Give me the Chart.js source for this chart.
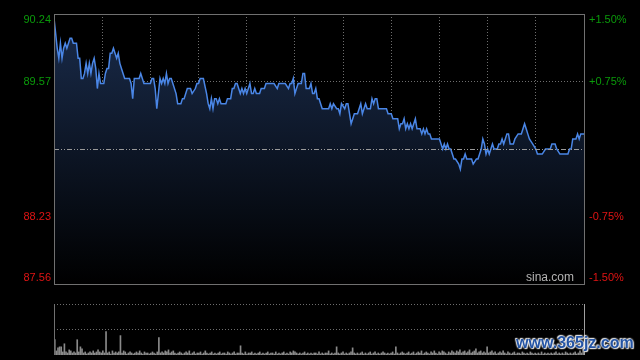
<!DOCTYPE html>
<html><head><meta charset="utf-8">
<script src="https://cdn.jsdelivr.net/npm/chart.js@4.4.1/dist/chart.umd.min.js"></script>
<style>
html,body{margin:0;padding:0;background:#000;width:640px;height:360px;overflow:hidden}
#wrap{position:relative;width:640px;height:360px}
canvas{position:absolute;left:0;top:0}
#wm{position:absolute;left:516px;top:334px;font:bold 16px "Liberation Sans",Arial,sans-serif;color:#2454a4;white-space:nowrap;
text-shadow:0 0 2px #fff,0 0 2px #fff,1px 1px 1px #ddd,-1px -1px 1px #ddd}
</style></head>
<body><div id="wrap">
<canvas id="main" width="640" height="360"></canvas>
<canvas id="vol" width="640" height="360"></canvas>
<div id="wm">www.365jz.com</div>
</div>
<script>
// ---- data ----
const prevClose = 88.90;
const yTickValues = [87.56, 88.23, 88.90, 89.57, 90.24];
const leftLabels  = ['87.56', '88.23', '', '89.57', '90.24'];
const rightLabels = ['-1.50%', '-0.75%', '', '+0.75%', '+1.50%'];
const sessionMinutes = 330;
const minutes = [0,2,3,4,5,6,7,8,10,11,12,14,15,16,17,18,19,20,21,22,23,24,25,26,27,28,29,31,32,33,34,35,36,37,38,39,40,41,42,43,44,47,48,49,50,53,54,55,56,60,61,62,63,64,65,66,67,68,69,70,71,72,73,74,76,77,79,80,81,83,84,85,86,88,89,90,91,93,95,96,97,98,99,100,101,102,103,104,107,108,110,111,112,113,114,116,117,118,119,120,121,122,123,124,125,126,128,129,131,132,137,139,140,144,146,147,148,149,150,151,152,154,155,156,157,159,160,161,162,163,164,165,166,167,168,171,172,173,174,176,177,178,179,181,182,183,184,185,186,187,189,190,191,192,193,194,195,197,198,199,200,201,202,207,208,210,211,214,215,216,217,218,219,220,221,222,223,224,225,226,227,228,229,230,231,232,233,234,235,240,242,243,244,245,246,247,248,249,250,252,253,254,255,256,257,258,260,261,263,264,266,267,268,269,270,271,272,273,274,276,277,278,279,280,281,282,283,284,286,287,289,291,292,293,294,295,296,298,300,301,304,306,309,310,312,313,315,320,321,322,323,325,326,327,328,330];
const prices = [90.20,89.90,89.80,89.95,89.80,89.90,89.95,89.90,90.00,90.00,89.95,89.95,89.80,89.80,89.60,89.60,89.65,89.75,89.65,89.75,89.65,89.75,89.80,89.70,89.50,89.65,89.55,89.55,89.65,89.70,89.70,89.85,89.85,89.90,89.85,89.80,89.85,89.75,89.70,89.65,89.60,89.60,89.55,89.40,89.60,89.60,89.65,89.60,89.55,89.55,89.60,89.60,89.50,89.30,89.45,89.60,89.55,89.60,89.55,89.65,89.55,89.60,89.60,89.55,89.45,89.35,89.35,89.40,89.40,89.50,89.50,89.50,89.45,89.50,89.55,89.55,89.60,89.60,89.45,89.35,89.30,89.40,89.30,89.40,89.40,89.35,89.40,89.35,89.35,89.40,89.40,89.50,89.50,89.55,89.55,89.45,89.50,89.45,89.50,89.45,89.50,89.55,89.45,89.45,89.50,89.45,89.45,89.50,89.50,89.55,89.55,89.50,89.55,89.55,89.50,89.55,89.55,89.60,89.45,89.50,89.55,89.55,89.65,89.65,89.50,89.50,89.55,89.45,89.45,89.50,89.40,89.40,89.35,89.30,89.30,89.30,89.35,89.30,89.35,89.30,89.30,89.25,89.35,89.30,89.35,89.35,89.25,89.15,89.20,89.25,89.25,89.30,89.35,89.25,89.30,89.35,89.30,89.30,89.40,89.35,89.40,89.40,89.30,89.30,89.25,89.25,89.20,89.20,89.10,89.15,89.15,89.20,89.10,89.15,89.10,89.15,89.10,89.15,89.20,89.10,89.10,89.10,89.05,89.10,89.05,89.10,89.05,89.05,89.00,89.00,88.90,88.95,88.90,88.95,88.90,88.90,88.85,88.80,88.80,88.75,88.70,88.80,88.80,88.85,88.80,88.80,88.80,88.75,88.80,88.80,88.90,89.00,88.95,88.85,88.90,88.85,88.90,88.95,88.90,88.90,88.95,88.95,89.00,88.95,89.00,89.05,89.05,88.95,88.95,89.00,89.05,89.05,89.10,89.15,89.10,89.05,89.00,88.95,88.90,88.85,88.85,88.90,88.90,88.95,88.95,88.90,88.85,88.85,88.90,88.90,89.00,89.00,89.05,89.00,89.05,89.05];
const volumes = [
15,4,7,8,8,3,11,3,2,5,4,2,3,2,15,3,8,6,2,3,
1,2,3,2,4,2,3,5,3,2,4,2,23,2,3,1,4,2,3,2,
3,19,2,4,3,1,2,3,2,1,2,3,2,4,2,1,3,2,2,1,
2,3,2,1,3,17,2,3,2,4,3,5,2,3,4,2,1,2,3,2,
1,2,3,2,4,1,2,3,1,2,2,3,1,2,4,2,1,2,3,1,
2,1,2,3,1,2,2,1,3,2,1,2,3,1,2,2,9,2,1,3,
1,2,2,3,1,2,1,2,3,1,2,1,2,3,1,2,2,1,3,1,
2,1,2,3,1,2,1,3,2,4,
3,2,1,2,1,2,3,1,2,1,2,1,2,2,1,3,1,2,1,2,
2,4,1,2,1,2,8,2,1,2,3,1,2,1,2,3,7,2,1,2,
1,2,3,1,2,1,2,3,1,2,3,1,2,1,2,3,2,1,2,1,
2,3,1,8,2,1,2,3,2,1,2,3,1,2,3,1,2,3,2,4,
1,2,3,2,1,3,2,4,2,1,3,2,4,3,2,1,3,2,4,3,
2,4,3,5,2,3,4,2,3,5,2,3,4,6,2,3,4,2,3,2,
8,2,3,4,2,3,1,2,3,2,4,2,1,3,2,1,2,3,1,2,
2,1,3,2,1,2,1,3,2,1,2,1,2,1,3,1,2,1,2,1,
2,1,2,3,1,2,1,2,1,3,2,1,2,1,2,3,1,2,4,2,5];
const volMax = 50;

// ---- styling ----
const GREEN = '#0a9a0a', RED = '#e01414', GRID = '#6e6e6e', FRAME = '#707070';
const FONT = '11px "Liberation Sans", Arial, sans-serif';

const framePlugin = {
  id: 'frame',
  afterDraw(chart) {
    const {ctx, chartArea: a, scales} = chart;
    ctx.save();
    const py = Math.round(scales.y.getPixelForValue(prevClose)) + 0.5;
    ctx.strokeStyle = '#9a9a9a'; ctx.lineWidth = 1;
    ctx.setLineDash([5, 2, 1, 2, 1, 2]);
    ctx.beginPath(); ctx.moveTo(a.left, py); ctx.lineTo(a.right, py); ctx.stroke();
    ctx.setLineDash([]);
    ctx.strokeStyle = FRAME;
    ctx.strokeRect(Math.round(a.left) + 0.5, Math.round(a.top) + 0.5, Math.round(a.right - a.left), Math.round(a.bottom - a.top));
    ctx.font = FONT; ctx.textBaseline = 'middle';
    yTickValues.forEach((v, i) => {
      let y = scales.y.getPixelForValue(v);
      y = Math.min(Math.max(y, a.top + 6), a.bottom - 6);
      ctx.fillStyle = v > prevClose ? GREEN : RED;
      if (leftLabels[i]) { ctx.textAlign = 'right'; ctx.fillText(leftLabels[i], a.left - 3, y); }
      if (rightLabels[i]) { ctx.textAlign = 'left'; ctx.fillText(rightLabels[i], a.right + 5, y); }
    });
    ctx.font = '12px "Liberation Sans", Arial, sans-serif';
    ctx.fillStyle = '#b4b4b4'; ctx.textAlign = 'right';
    ctx.fillText('sina.com', a.right - 10, a.bottom - 6);
    ctx.restore();
  }
};

new Chart(document.getElementById('main'), {
  type: 'line',
  data: { datasets: [{
    data: minutes.map((m, i) => ({x: m, y: prices[i]})),
    borderColor: '#4a86e6', borderWidth: 1.5, pointRadius: 0, tension: 0,
    fill: 'start',
    backgroundColor: (c) => {
      const a = c.chart.chartArea; if (!a) return 'transparent';
      const g = c.chart.ctx.createLinearGradient(0, a.top, 0, a.bottom);
      g.addColorStop(0, '#1a2c4c'); g.addColorStop(1, '#000000');
      return g;
    }
  }]},
  options: {
    responsive: false, animation: false, events: [],
    layout: { padding: { left: 54, right: 56, top: 14, bottom: 76 } },
    plugins: { legend: {display: false}, tooltip: {enabled: false} },
    scales: {
      x: { type: 'linear', min: 0, max: sessionMinutes, z: 1,
        afterBuildTicks: s => { s.ticks = []; for (let m = 30; m < sessionMinutes; m += 30) s.ticks.push({value: m}); },
        afterFit: s => { s.height = 0; },
        ticks: {display: false}, border: {display: false, dash: [1, 2]},
        grid: {color: GRID, drawTicks: false, lineWidth: 1} },
      y: { min: yTickValues[0], max: yTickValues[4], z: 1,
        afterBuildTicks: s => { s.ticks = yTickValues.slice(1, 4).map(v => ({value: v})); },
        afterFit: s => { s.width = 0; },
        ticks: {display: false}, border: {display: false, dash: [1, 2]},
        grid: {drawTicks: false, lineWidth: 1,
          color: c => (c.tick && Math.abs(c.tick.value - prevClose) < 1e-6) ? 'rgba(0,0,0,0)' : GRID } }
    }
  },
  plugins: [framePlugin]
});

const volFrame = {
  id: 'volFrame',
  afterDraw(chart) {
    const {ctx, chartArea: a} = chart;
    ctx.save(); ctx.lineWidth = 1;
    const l = Math.round(a.left) + 0.5, r = Math.round(a.right) + 0.5;
    ctx.beginPath(); ctx.strokeStyle = FRAME;
    ctx.moveTo(l, a.top); ctx.lineTo(l, a.bottom); ctx.stroke();
    ctx.beginPath(); ctx.strokeStyle = '#a0a0a0';
    ctx.moveTo(r, a.top); ctx.lineTo(r, a.bottom); ctx.stroke();
    ctx.restore();
  }
};

new Chart(document.getElementById('vol'), {
  type: 'bar',
  data: { labels: volumes.map((v, i) => i), datasets: [{
    data: volumes, backgroundColor: '#8a8a8a', barThickness: 1, borderWidth: 0 }]},
  options: {
    responsive: false, animation: false, events: [],
    layout: { padding: { left: 54, right: 56, top: 304, bottom: 5 } },
    plugins: { legend: {display: false}, tooltip: {enabled: false} },
    scales: {
      x: { afterFit: s => { s.height = 0; }, ticks: {display: false},
        grid: {display: false}, border: {display: false} },
      y: { min: 0, max: volMax, z: 1,
        afterBuildTicks: s => { s.ticks = [{value: volMax / 2}, {value: volMax}]; },
        afterFit: s => { s.width = 0; },
        ticks: {display: false}, border: {display: false, dash: [1, 2]},
        grid: {drawTicks: false, color: GRID, lineWidth: 1} }
    }
  },
  plugins: [volFrame]
});
</script>
</body></html>
